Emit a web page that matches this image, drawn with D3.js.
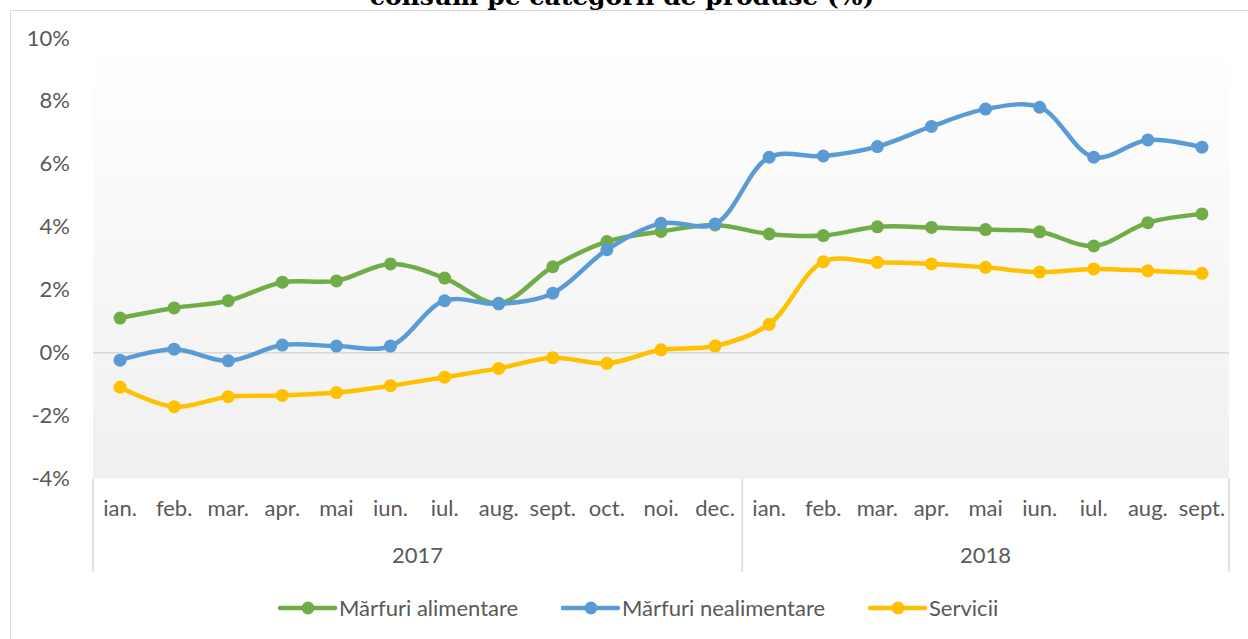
<!DOCTYPE html>
<html><head><meta charset="utf-8">
<script src="https://cdn.jsdelivr.net/npm/d3@7"></script>
<style>body{margin:0;background:#fff;overflow:hidden}</style>
</head><body>
<svg id="c" width="1248" height="639"></svg>
<script>
const months = ["ian.","feb.","mar.","apr.","mai","iun.","iul.","aug.","sept.","oct.","noi.","dec.","ian.","feb.","mar.","apr.","mai","iun.","iul.","aug.","sept."];
const years = [{label:"2017", n:12},{label:"2018", n:9}];
const alimentare = [1.10,1.42,1.65,2.24,2.28,2.82,2.37,1.57,2.73,3.53,3.85,4.06,3.77,3.72,4.00,3.98,3.91,3.84,3.39,4.13,4.41];
const nealimentare = [-0.24,0.11,-0.26,0.24,0.21,0.21,1.65,1.55,1.89,3.27,4.11,4.09,6.21,6.25,6.55,7.19,7.74,7.80,6.21,6.76,6.53];
const servicii = [-1.10,-1.72,-1.40,-1.36,-1.27,-1.05,-0.78,-0.50,-0.16,-0.34,0.09,0.21,0.90,2.89,2.87,2.82,2.71,2.56,2.66,2.60,2.52];
const yTicks = [-4,-2,0,2,4,6,8,10];
const title = "consum pe categorii de produse (%)";
const seriesNames = ["Mărfuri alimentare","Mărfuri nealimentare","Servicii"];
const colors = ["#70AD47","#5B9BD5","#FFC000"];

const svg = d3.select("#c");
const font = "Lato, 'Open Sans', sans-serif";
const fs = 22;
const L = 93, R = 1229, T = 38, B = 478.5;

// outer frame
svg.append("rect").attr("x",10.5).attr("y",10.5).attr("width",1260).attr("height",660)
  .attr("fill","#fff").attr("stroke","#d9d9d9").attr("stroke-width",1);

// title (partially cut at the top, as in the reference)
svg.append("text").attr("x",622).attr("y",5).attr("text-anchor","middle")
  .attr("font-family","'DejaVu Serif', 'Liberation Serif', serif").attr("font-weight","bold")
  .attr("font-size",25).attr("fill","#000").text(title);

const idx = d3.range(months.length);
const x = d3.scaleBand().domain(idx).range([L,R]);
const y = d3.scaleLinear().domain([-4,10]).range([B,T]);

const defs = svg.append("defs");
const g = defs.append("linearGradient").attr("id","bg").attr("x1",0).attr("y1",0).attr("x2",0).attr("y2",1);
g.append("stop").attr("offset","0%").attr("stop-color","#ffffff");
g.append("stop").attr("offset","100%").attr("stop-color","#f0f0f0");
svg.append("rect").attr("x",L).attr("y",T).attr("width",R-L).attr("height",B-T).attr("fill","url(#bg)");

// zero line
svg.append("line").attr("x1",L).attr("x2",R).attr("y1",y(0)).attr("y2",y(0))
  .attr("stroke","#d9d9d9").attr("stroke-width",1.5);

// y axis labels
const yAxis = d3.axisLeft(y).tickValues(yTicks).tickFormat(d=>d+"%").tickSize(0).tickPadding(0);
const ya = svg.append("g").attr("transform",`translate(70,0)`).call(yAxis);
ya.select(".domain").remove();
ya.selectAll("text").attr("font-family",font).attr("font-size",fs).attr("fill","#595959");

// category axis
const xAxis = d3.axisBottom(x).tickFormat(i=>months[i]).tickSize(0).tickPadding(0);
const xa = svg.append("g").attr("transform",`translate(0,${B+22})`).call(xAxis);
xa.select(".domain").remove();
xa.selectAll("text").attr("font-family",font).attr("font-size",fs).attr("fill","#595959").attr("dy","0.71em");

// separators
let cum = 0;
const seps = [0];
years.forEach(yr=>{cum+=yr.n; seps.push(cum);});
seps.forEach(s=>{
  const xx = s===months.length ? R : x(s);
  svg.append("line").attr("x1",xx).attr("x2",xx).attr("y1",B).attr("y2",572)
    .attr("stroke","#d9d9d9").attr("stroke-width",1.5);
});
cum = 0;
years.forEach(yr=>{
  const x0 = x(cum), x1 = cum+yr.n===months.length ? R : x(cum+yr.n);
  svg.append("text").attr("x",(x0+x1)/2).attr("y",563).attr("text-anchor","middle")
    .attr("font-family",font).attr("font-size",fs).attr("fill","#595959").text(yr.label);
  cum += yr.n;
});

// series
const allSeries = [alimentare, nealimentare, servicii];
const line = d3.line().x((d,i)=>x(i)+x.bandwidth()/2).y(d=>y(d)).curve(d3.curveCatmullRom.alpha(0.5));
allSeries.forEach((s,k)=>{
  svg.append("path").datum(s).attr("d",line).attr("fill","none")
    .attr("stroke",colors[k]).attr("stroke-width",4.5).attr("stroke-linejoin","round").attr("stroke-linecap","round");
  svg.append("g").selectAll("circle").data(s).join("circle")
    .attr("cx",(d,i)=>x(i)+x.bandwidth()/2).attr("cy",d=>y(d)).attr("r",6.5).attr("fill",colors[k]);
});

// legend
const legX = [280, 563, 870];
seriesNames.forEach((n,k)=>{
  const lg = svg.append("g").attr("transform",`translate(${legX[k]},608)`);
  lg.append("line").attr("x1",0).attr("x2",55).attr("y1",0).attr("y2",0).attr("stroke",colors[k]).attr("stroke-width",4.5).attr("stroke-linecap","round");
  lg.append("circle").attr("cx",28).attr("cy",0).attr("r",6.5).attr("fill",colors[k]);
  lg.append("text").attr("x",59).attr("y",0).attr("dy","0.35em").attr("font-family",font)
    .attr("font-size",fs).attr("fill","#595959").text(n);
});
</script>
</body></html>
